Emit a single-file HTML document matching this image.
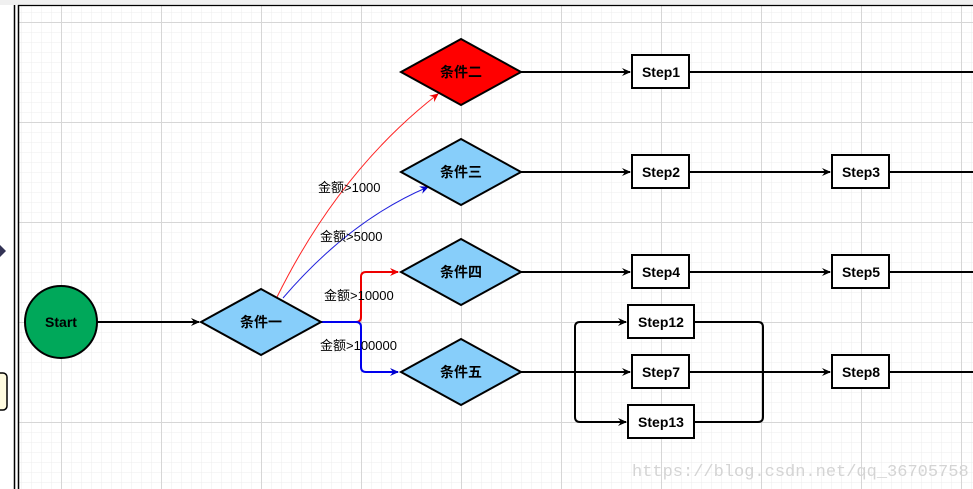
<!DOCTYPE html>
<html><head><meta charset="utf-8"><style>
html,body{margin:0;padding:0;width:973px;height:489px;overflow:hidden;background:#fff}
svg{display:block}
text{font-family:"Liberation Sans","Noto Sans CJK SC",sans-serif}
</style></head><body>
<svg width="973" height="489" viewBox="0 0 973 489" xmlns="http://www.w3.org/2000/svg">
<defs>
<pattern id="minor" x="1" y="2" width="10" height="10" patternUnits="userSpaceOnUse">
<path d="M0 0H10M0 0V10" stroke="#ececec" stroke-width="1" fill="none"/>
</pattern>
<pattern id="major" x="61" y="22" width="100" height="100" patternUnits="userSpaceOnUse">
<path d="M0 0.5H100M0.5 0V100" stroke="#d6d6d6" stroke-width="1" fill="none"/>
</pattern>
<marker id="ak" markerWidth="10" markerHeight="10" refX="8" refY="5" orient="auto" markerUnits="userSpaceOnUse"><path d="M0 1L9 5L0 9L3 5Z" fill="#000"/></marker>
<marker id="ar" markerWidth="10" markerHeight="10" refX="8" refY="5" orient="auto" markerUnits="userSpaceOnUse"><path d="M0 1L9 5L0 9L3 5Z" fill="#e00"/></marker>
<marker id="ab" markerWidth="10" markerHeight="10" refX="8" refY="5" orient="auto" markerUnits="userSpaceOnUse"><path d="M0 1L9 5L0 9L3 5Z" fill="#00c"/></marker>
</defs>
<rect x="0" y="0" width="973" height="5" fill="#f0f0f0"/>
<rect x="19" y="6" width="954" height="483" fill="url(#minor)"/>
<rect x="19" y="6" width="954" height="483" fill="url(#major)"/>
<line x1="14.5" y1="5" x2="14.5" y2="489" stroke="#000" stroke-width="1.5"/>
<line x1="18.5" y1="5" x2="18.5" y2="489" stroke="#000" stroke-width="1.5"/>
<line x1="18" y1="5.5" x2="973" y2="5.5" stroke="#000" stroke-width="1.2"/>
<path d="M0 245L6 251L0 257Z" fill="#335" />
<rect x="-8" y="373" width="15" height="37" rx="4" fill="#fffbe0" stroke="#000" stroke-width="1.5"/>

<g stroke="#000" stroke-width="2" fill="none">
<line x1="97" y1="322" x2="199" y2="322" marker-end="url(#ak)"/>
<line x1="521" y1="72" x2="630" y2="72" marker-end="url(#ak)"/>
<line x1="690" y1="72" x2="973" y2="72"/>
<line x1="521" y1="172" x2="630" y2="172" marker-end="url(#ak)"/>
<line x1="690" y1="172" x2="830" y2="172" marker-end="url(#ak)"/>
<line x1="890" y1="172" x2="973" y2="172"/>
<line x1="521" y1="272" x2="630" y2="272" marker-end="url(#ak)"/>
<line x1="690" y1="272" x2="830" y2="272" marker-end="url(#ak)"/>
<line x1="890" y1="272" x2="973" y2="272"/>
<line x1="521" y1="372" x2="630" y2="372" marker-end="url(#ak)"/>
<path d="M575 372V327Q575 322 580 322H626" marker-end="url(#ak)"/>
<path d="M575 372V417Q575 422 580 422H626" marker-end="url(#ak)"/>
<path d="M694 322H758Q763 322 763 327V417Q763 422 758 422H694"/>
<line x1="689" y1="372" x2="830" y2="372" marker-end="url(#ak)"/>
<line x1="890" y1="372" x2="973" y2="372"/>
</g>
<path d="M321 322H356Q361 322 361 317V277Q361 272 366 272H398" fill="none" stroke="#e00" stroke-width="2" marker-end="url(#ar)"/>
<path d="M321 322H356Q361 322 361 327V367Q361 372 366 372H398" fill="none" stroke="#00e" stroke-width="2" marker-end="url(#ab)"/>
<path d="M277 297Q340 170 438 94" fill="none" stroke="#f22" stroke-width="1" marker-end="url(#ar)"/>
<path d="M283 298Q350 220 428 187" fill="none" stroke="#22d" stroke-width="1" marker-end="url(#ab)"/>

<circle cx="61" cy="322" r="36" fill="#00a85a" stroke="#000" stroke-width="2"/>
<text x="61" y="327" text-anchor="middle" font-size="14" font-weight="bold">Start</text>
<g stroke="#000" stroke-width="2">
<polygon points="201,322 261,289 321,322 261,355" fill="#87cefa"/>
<polygon points="401,72 461,39 521,72 461,105" fill="#ff0000"/>
<polygon points="401,172 461,139 521,172 461,205" fill="#87cefa"/>
<polygon points="401,272 461,239 521,272 461,305" fill="#87cefa"/>
<polygon points="401,372 461,339 521,372 461,405" fill="#87cefa"/>
</g>
<g font-size="14" font-weight="bold" text-anchor="middle">
<text x="261" y="327">条件一</text>
<text x="461" y="77">条件二</text>
<text x="461" y="177">条件三</text>
<text x="461" y="277">条件四</text>
<text x="461" y="377">条件五</text>
</g>
<g fill="#fff" stroke="#000" stroke-width="2">
<rect x="632" y="55" width="57" height="33"/>
<rect x="632" y="155" width="57" height="33"/>
<rect x="832" y="155" width="57" height="33"/>
<rect x="632" y="255" width="57" height="33"/>
<rect x="832" y="255" width="57" height="33"/>
<rect x="628" y="305" width="66" height="33"/>
<rect x="632" y="355" width="57" height="33"/>
<rect x="628" y="405" width="66" height="33"/>
<rect x="832" y="355" width="57" height="33"/>
</g>
<g font-size="14" font-weight="bold" text-anchor="middle">
<text x="661" y="77">Step1</text>
<text x="661" y="177">Step2</text>
<text x="861" y="177">Step3</text>
<text x="661" y="277">Step4</text>
<text x="861" y="277">Step5</text>
<text x="661" y="327">Step12</text>
<text x="661" y="377">Step7</text>
<text x="661" y="427">Step13</text>
<text x="861" y="377">Step8</text>
</g>
<g font-size="13">
<text x="318" y="192">金额&gt;1000</text>
<text x="320" y="241">金额&gt;5000</text>
<text x="324" y="300">金额&gt;10000</text>
<text x="320" y="350">金额&gt;100000</text>
</g>
<text x="632" y="476" font-size="17" fill="#d4d4d4" style="font-family:'Liberation Mono',monospace">https://blog.csdn.net/qq_36705758</text>
</svg>
</body></html>
